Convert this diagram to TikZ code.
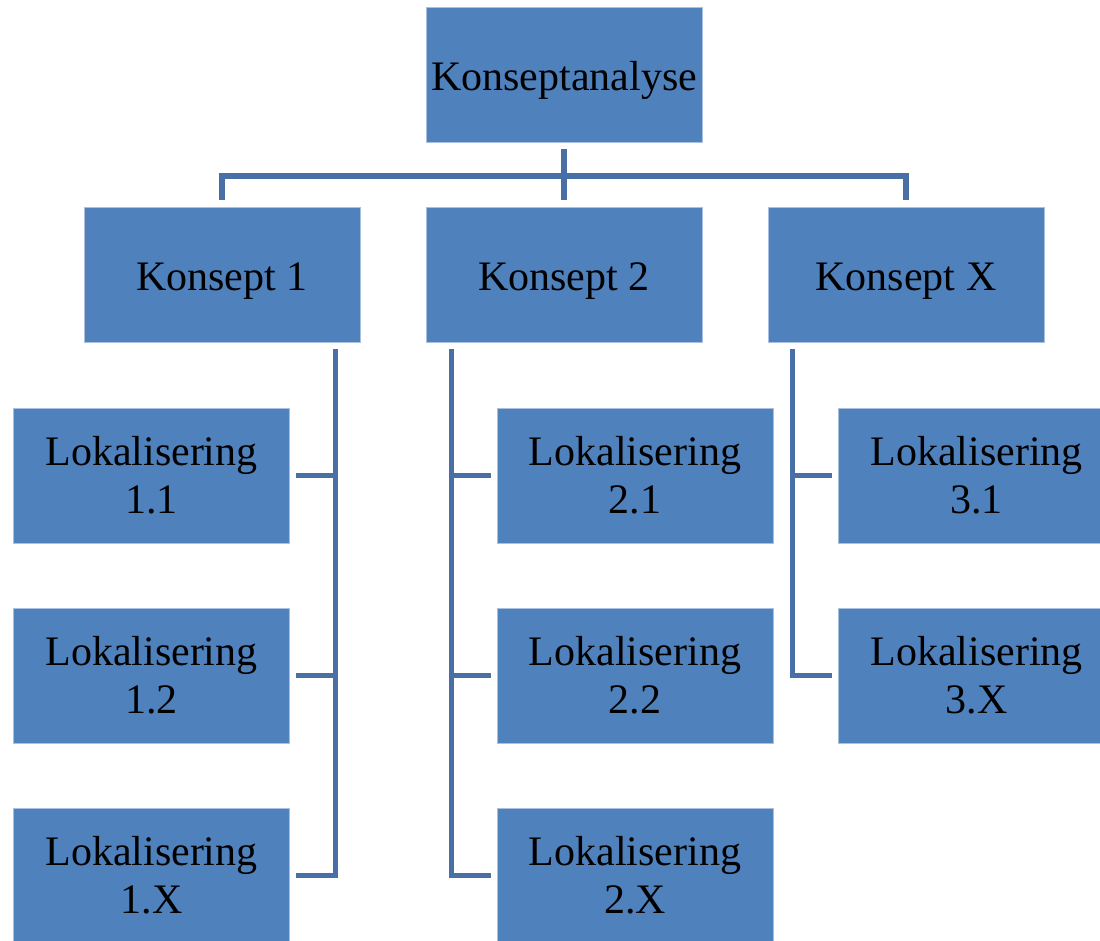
\documentclass[tikz,border=0pt]{standalone}
\usepackage{fontspec}
\setmainfont{Liberation Serif}
\definecolor{boxfill}{HTML}{4F81BD}
\definecolor{boxedge}{HTML}{A9C0DF}
\definecolor{conn}{HTML}{4870A6}
\begin{document}
\begin{tikzpicture}[x=1pt,y=-1pt,
  box/.style={rectangle,fill=boxfill,draw=boxedge,line width=0.8pt,minimum width=276pt,minimum height=135pt,inner sep=0pt,align=center,font=\fontsize{42}{48}\selectfont,text=black},
  oneline/.style={box,text height=38pt,text depth=8pt},
  conn/.style={draw=conn,line width=5.5pt,line join=miter}]
\useasboundingbox (0,0) rectangle (1100,940);
\clip (0,0) rectangle (1100,940);
\node[oneline] (top) at (564,75) {Konseptanalyse};
\node[oneline] (k1) at (222,275) {Konsept 1};
\node[oneline] (k2) at (564,275) {Konsept 2};
\node[oneline] (kx) at (906,275) {Konsept X};
\node[box] (l11) at (151.5,475.5) {Lokalisering\\1.1};
\node[box] (l12) at (151.5,675.5) {Lokalisering\\1.2};
\node[box] (l1x) at (151.5,875.5) {Lokalisering\\1.X};
\node[box] (l21) at (635,475.5) {Lokalisering\\2.1};
\node[box] (l22) at (635,675.5) {Lokalisering\\2.2};
\node[box] (l2x) at (635,875.5) {Lokalisering\\2.X};
\node[box] (l31) at (976.5,475.5) {Lokalisering\\3.1};
\node[box] (l3x) at (976.5,675.5) {Lokalisering\\3.X};
% top level
\coordinate (hbar) at (564,176);
\draw[conn] ([yshift=-6pt]top.south) -- ([yshift=7pt]k2.north);
\draw[conn] ([yshift=7pt]k1.north) |- (hbar) -| ([yshift=7pt]kx.north);
% concept 1 bus
\coordinate (b1) at ([xshift=-25pt,yshift=-6pt]k1.south east);
\draw[conn] (b1) |- ([xshift=6pt]l1x.east);
\draw[conn] ([xshift=6pt]l11.east) -- (l11.east -| b1);
\draw[conn] ([xshift=6pt]l12.east) -- (l12.east -| b1);
% concept 2 bus
\coordinate (b2) at ([xshift=26pt,yshift=-6pt]k2.south west);
\draw[conn] (b2) |- ([xshift=-6pt]l2x.west);
\draw[conn] ([xshift=-6pt]l21.west) -- (l21.west -| b2);
\draw[conn] ([xshift=-6pt]l22.west) -- (l22.west -| b2);
% concept X bus
\coordinate (b3) at ([xshift=25pt,yshift=-6pt]kx.south west);
\draw[conn] (b3) |- ([xshift=-6pt]l3x.west);
\draw[conn] ([xshift=-6pt]l31.west) -- (l31.west -| b3);
\end{tikzpicture}
\end{document}
